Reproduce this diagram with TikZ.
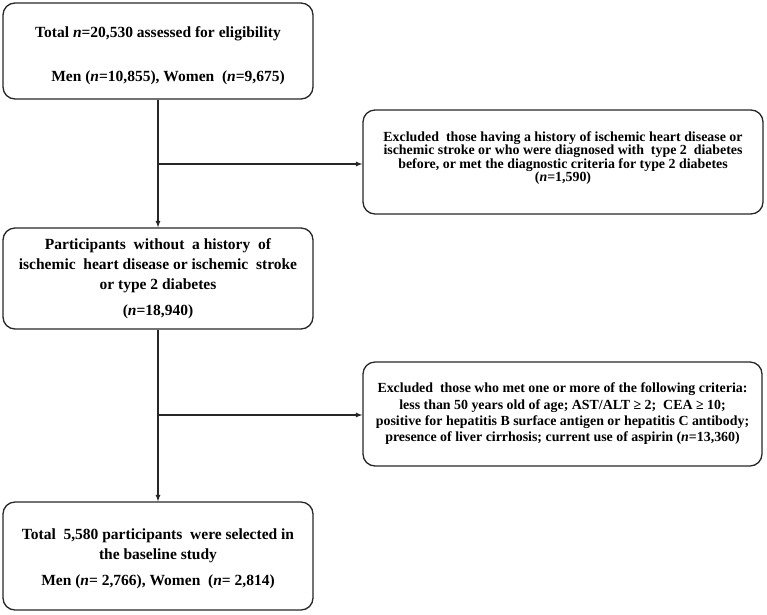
\documentclass[tikz,border=0pt]{standalone}
\usepackage{fontspec}
\setmainfont{Liberation Serif}
\usetikzlibrary{positioning, arrows}

\begin{document}
\begin{tikzpicture}[x=1pt,y=-1pt,>=latex,
  box/.style={draw=black!85, rounded corners=12pt, line width=1.3pt, align=center,
    inner sep=0pt, font=\bfseries\fontsize{15.5}{20}\selectfont},
  exbox/.style={box, font=\bfseries\fontsize{13.9}{13.5}\selectfont},
  link/.style={->, draw=black!85, line width=1.2pt}]
  \useasboundingbox (0,0) rectangle (767,614);
  \node[box, minimum width=310pt, minimum height=96pt] (all) at (158,51)
    {\rule{0pt}{21pt}Total \textit{n}=20,530 assessed for eligibility\\[24pt]
     \hspace*{20pt}Men (\textit{n}=10,855), Women\ \ (\textit{n}=9,675)};
  \node[exbox, minimum width=400pt, minimum height=104pt] (ex1) at (563,162)
    {Excluded\ \ those having a history of ischemic heart disease or\\
     ischemic stroke or who were diagnosed with\ \ type 2\ \ diabetes\\
     before, or met the diagnostic criteria for type 2 diabetes\\
     (\textit{n}=1,590)\rule[-11pt]{0pt}{0pt}};
  \node[box, minimum width=310pt, minimum height=101pt] (nohist) at (158,278.5)
    {Participants\ \ without\ \ a history\ \ of\\
     ischemic\ \ heart disease or ischemic\ \ stroke\\
     or type 2 diabetes\\[6pt]
     (\textit{n}=18,940)};
  \node[exbox, minimum width=399pt, minimum height=104pt] (ex2) at (562.5,414)
    {Excluded\ \ those who met one or more of the following criteria:\\[2.8pt]
     less than 50 years old of age; AST/ALT ≥ 2;\ \ CEA ≥ 10;\\[2.8pt]
     positive for hepatitis B surface antigen or hepatitis C antibody;\\[2.8pt]
     presence of liver cirrhosis; current use of aspirin (\textit{n}=13,360)};
  \node[box, minimum width=310pt, minimum height=108pt] (final) at (158,556)
    {\rule{0pt}{16pt}Total\ \ 5,580 participants\ \ were selected in\\
     the baseline study\\[6pt]
     Men (\textit{n}= 2,766), Women\ \ (\textit{n}= 2,814)};
  % branches to the exclusion boxes
  \coordinate (br1) at (158,164);
  \coordinate (br2) at (158,415);
  \draw[link] (all) -- (nohist);
  \draw[link] (br1) -- (ex1.west |- br1);
  \draw[link] (nohist) -- (final);
  \draw[link] (br2) -- (ex2.west |- br2);
\end{tikzpicture}
\end{document}
